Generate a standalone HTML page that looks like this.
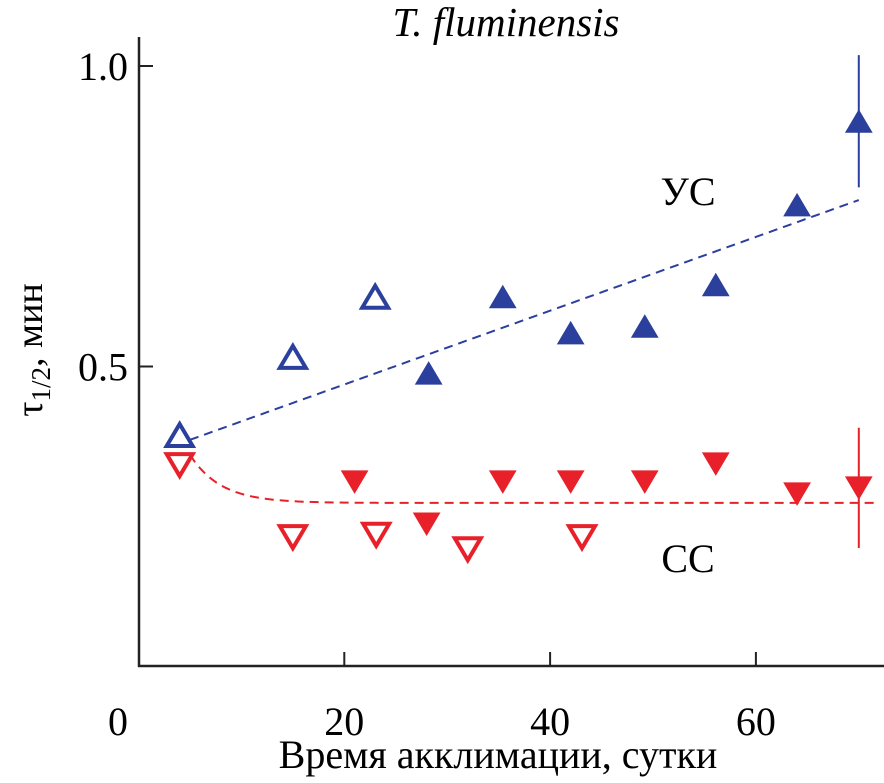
<!DOCTYPE html>
<html><head><meta charset="utf-8"><style>
html,body{margin:0;padding:0;background:#fff;}
svg{display:block;font-family:"Liberation Serif",serif;}
</style></head><body>
<svg id="chart" width="884" height="783" viewBox="0 0 884 783" xmlns="http://www.w3.org/2000/svg">
<text x="506" y="36" font-size="41" font-style="italic" text-anchor="middle">T. fluminensis</text>
<g id="axes"></g>
<g id="marks"></g>
<text x="688" y="205" font-size="40" text-anchor="middle">УС</text>
<text x="688" y="572" font-size="40" text-anchor="middle">СС</text>
<text x="498" y="768" font-size="40" text-anchor="middle">Время акклимации, сутки</text>
<text transform="translate(42,350) rotate(-90)" font-size="38" text-anchor="middle">τ<tspan font-size="27" dy="8">1/2</tspan><tspan dy="-8">, мин</tspan></text>
</svg>
<script>
const xTicks=[20,40,60];
const xTickLabels=["0","20","40","60"];
const yTicks=[0.5,1.0];
const yTickLabels=["0.5","1.0"];
const usOpenX=[4,15,23];
const usOpenY=[0.386,0.516,0.616];
const usFillX=[28.2,35.4,42,49.2,56.1,64,70];
const usFillY=[0.489,0.616,0.556,0.567,0.636,0.769,0.908];
const usErr=[0,0,0,0,0,0,0.11];
const ssOpenX=[4,15,23.1,32,43.1];
const ssOpenY=[0.336,0.216,0.22,0.196,0.216];
const ssFillX=[21,28,35.4,42,49.2,56.1,64,70];
const ssFillY=[0.308,0.238,0.308,0.308,0.308,0.338,0.288,0.298];
const ssErr=[0,0,0,0,0,0,0,0.1];
const usFitX=[5,70];
const usFitY=[0.378,0.777];
const ssFitBase=0.273, ssFitAmp=0.08, ssFitTau=3, ssFitStart=5, ssFitEnd=72;

const X=d=>138.5+d*10.29;
const Y=v=>667-v*601;
const NS="http://www.w3.org/2000/svg";
function mk(tag,attrs,parent){const e=document.createElementNS(NS,tag);for(const k in attrs)e.setAttribute(k,attrs[k]);parent.appendChild(e);return e;}
const ax=document.getElementById('axes'), mg=document.getElementById('marks');
let e;
e=mk('line',{x1:139,y1:37,x2:139,y2:667,stroke:'#222','stroke-width':2.5},ax);


e=mk('line',{x1:138,y1:666,x2:884,y2:666,stroke:'#222','stroke-width':2.5},ax);


xTicks.forEach(t=>{
  e=mk('line',{x1:X(t),y1:652,x2:X(t),y2:666,stroke:'#222','stroke-width':2},ax);
  
  
});
xTickLabels.forEach((l,i)=>{
  const xx=i===0?118:X(xTicks[i-1]);
  e=mk('text',{x:xx,y:735,'font-size':40,'text-anchor':'middle'},ax);e.textContent=l;
  
  
});
yTicks.forEach((t,i)=>{
  e=mk('line',{x1:139,y1:Y(t),x2:153,y2:Y(t),stroke:'#222','stroke-width':2},ax);
  
  
  e=mk('text',{x:128,y:Y(t)+14,'font-size':40,'text-anchor':'end'},ax);e.textContent=yTickLabels[i];
  
  
});
const blue='#2b3f9c', red='#e8202a';
e=mk('line',{x1:X(usFitX[0]),y1:Y(usFitY[0]),x2:X(usFitX[1]),y2:Y(usFitY[1]),stroke:blue,'stroke-width':2,'stroke-dasharray':'9,6'},mg);


let pts=[];for(let d=ssFitStart;d<=ssFitEnd;d+=0.5)pts.push(X(d)+','+Y(ssFitBase+ssFitAmp*Math.exp(-(d-ssFitStart)/ssFitTau)));
e=mk('polyline',{points:pts.join(' '),fill:'none',stroke:red,'stroke-width':2,'stroke-dasharray':'9,6'},mg);


function tri(cx,cy,up,filled,col,name){
  const w=13,h=11;
  const p=up?`${cx-w},${cy+h} ${cx+w},${cy+h} ${cx},${cy-h}`:`${cx-w},${cy-h} ${cx+w},${cy-h} ${cx},${cy+h}`;
  const t=mk('polygon',{points:p,fill:filled?col:'#fff',stroke:col,'stroke-width':filled?1:4,'stroke-linejoin':'miter'},mg);
  
  
}
function err(cx,v,d,col,name){
  const l=mk('line',{x1:X(cx),y1:Y(v+d),x2:X(cx),y2:Y(v-d),stroke:col,'stroke-width':2},mg);
  
  
}
usFillX.forEach((d,i)=>{if(usErr[i])err(d,usFillY[i],usErr[i],blue,'us-error-bar');});
ssFillX.forEach((d,i)=>{if(ssErr[i])err(d,ssFillY[i],ssErr[i],red,'ss-error-bar');});
usOpenX.forEach((d,i)=>tri(X(d),Y(usOpenY[i]),true,false,blue,'us-open-point'));
usFillX.forEach((d,i)=>tri(X(d),Y(usFillY[i]),true,true,blue,'us-filled-point'));
ssOpenX.forEach((d,i)=>tri(X(d),Y(ssOpenY[i]),false,false,red,'ss-open-point'));
ssFillX.forEach((d,i)=>tri(X(d),Y(ssFillY[i]),false,true,red,'ss-filled-point'));
</script>
</body></html>
